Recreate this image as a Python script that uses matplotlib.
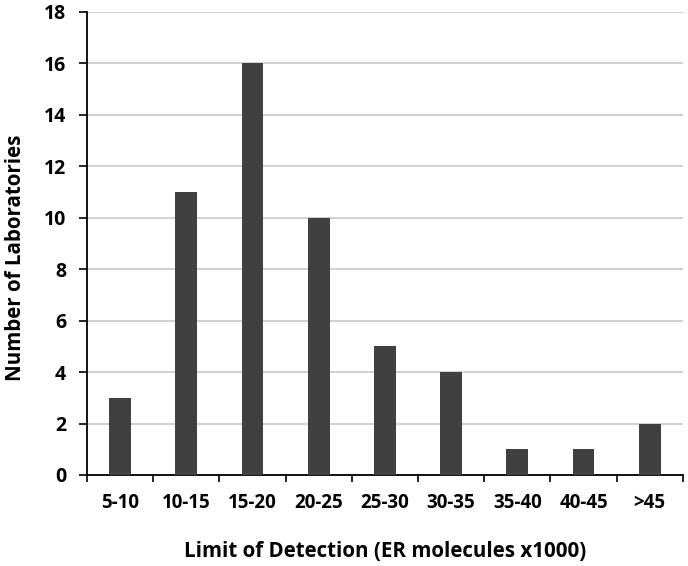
import matplotlib
matplotlib.use("Agg")
import matplotlib.pyplot as plt
import numpy as np

categories = ["5-10", "10-15", "15-20", "20-25", "25-30", "30-35", "35-40", "40-45", ">45"]
counts = [3, 11, 16, 10, 5, 4, 1, 1, 2]
yticks = [0, 2, 4, 6, 8, 10, 12, 14, 16, 18]

plt.rcParams['font.family'] = ['Open Sans', 'DejaVu Sans']
plt.rcParams['font.weight'] = 'bold'

fig = plt.figure(figsize=(6.88, 5.66), dpi=100)
ax = fig.add_axes([0.1265, 0.1608, 0.866, 0.818])

x = np.arange(len(categories))
ax.bar(x, counts, width=0.33, color='#404040', zorder=3)

ax.set_xlim(-0.5, len(categories) - 0.5)
ax.set_ylim(0, 18)
ax.set_yticks(yticks)
ax.set_yticklabels([str(v) for v in yticks], fontsize=14, fontweight='bold')
ax.yaxis.grid(True, color='#c8c8c8', linewidth=1.2, zorder=0)

ax.set_xticks(np.arange(len(categories) + 1) - 0.5, minor=False)
ax.set_xticklabels([])
ax.set_xticks(x, minor=True)
ax.set_xticklabels(categories, minor=True, fontsize=13.5, fontweight='bold')
ax.tick_params(axis='x', which='major', direction='out', length=5, width=1.2, color='black')
ax.tick_params(axis='x', which='minor', length=0, pad=13)
ax.tick_params(axis='y', direction='out', length=6, width=1.2, pad=9)

for s in ['top', 'right']:
    ax.spines[s].set_visible(False)
for s in ['left', 'bottom']:
    ax.spines[s].set_linewidth(1.3)

ax.set_xlabel("Limit of Detection (ER molecules x1000)", fontsize=14.8, fontweight='bold', labelpad=20)
ax.set_ylabel("Number of Laboratories", fontsize=14.8, fontweight='bold')
ax.yaxis.set_label_coords(-0.103, 0.469)

fig.savefig("out.png", dpi=100)
